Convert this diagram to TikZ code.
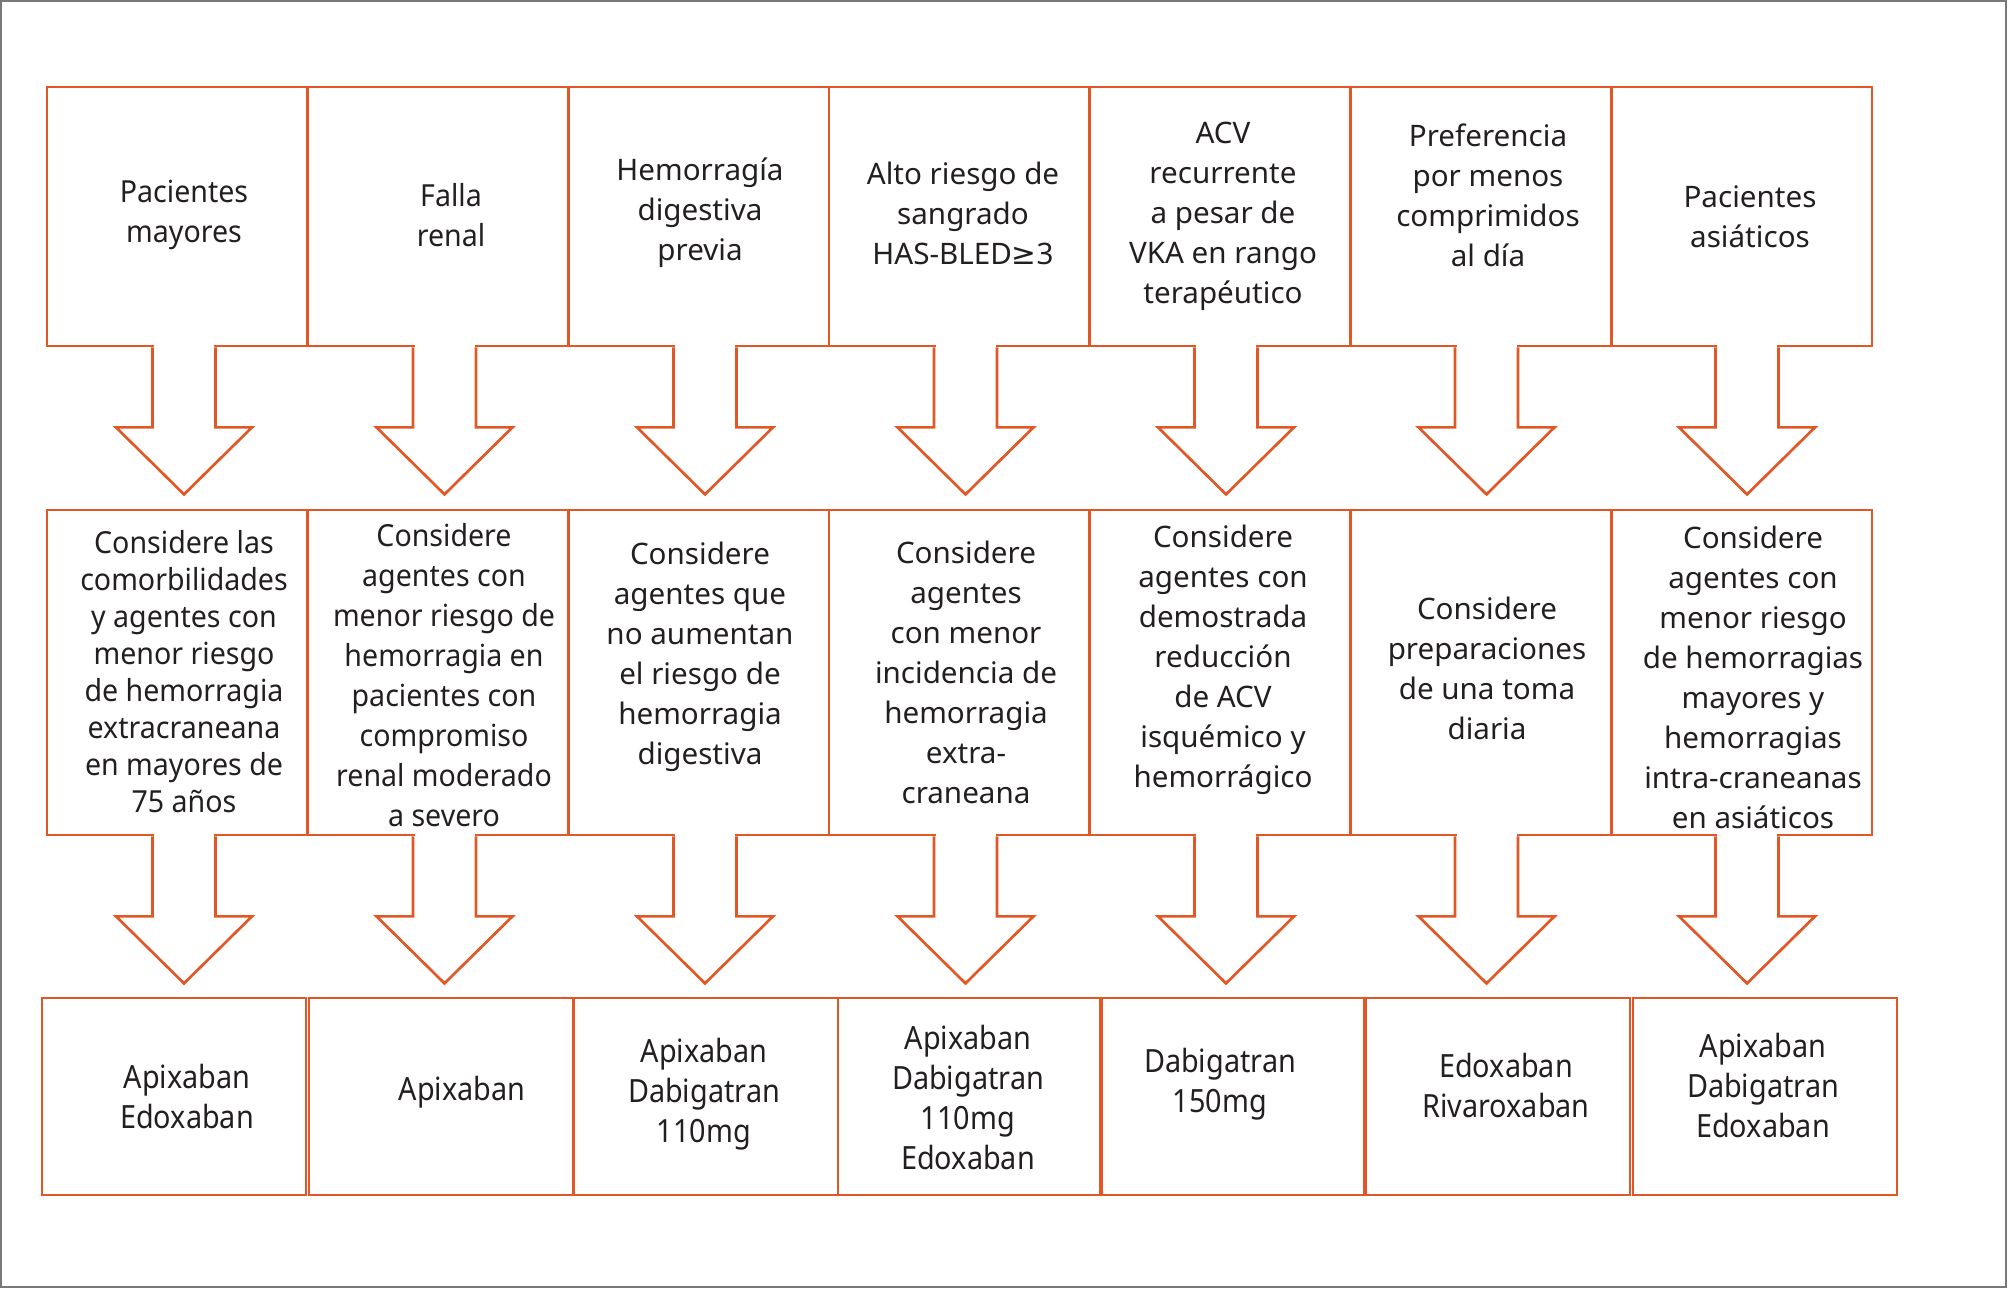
\documentclass[tikz,border=0pt]{standalone}
\usepackage{fontspec}
\setmainfont{Noto Sans}
\newfontfamily\fuenteangosta[FakeStretch=0.94]{Noto Sans}
\newfontfamily\fuentefarmaco[FakeStretch=0.9]{Noto Sans}
\newfontfamily\fuentesimbolo{DejaVu Sans}

\begin{document}
\begin{tikzpicture}[x=0.5pt, y=-0.5pt,
        celda/.style={draw=naranja, line width=1.35pt, inner sep=0pt, minimum width=130.35pt},
        flecha/.style={draw=naranja, line width=1.35pt},
        texto/.style={align=center, inner sep=0pt, text=tinta, font=\fontsize{14.8}{20}\selectfont},
        angosto/.style={texto, font=\fuenteangosta\fontsize{15.2}{20}\selectfont},
        farmaco/.style={texto, font=\fuentefarmaco\fontsize{16}{20}\selectfont}]

        % 定义颜色
        \definecolor{naranja}{RGB}{225, 88, 38}
        \definecolor{tinta}{RGB}{35, 31, 32}
        \definecolor{marco}{RGB}{120, 120, 120}

        % 画布与外框
        \useasboundingbox (0,0) rectangle (2008,1289);
        \draw[marco, line width=1pt] (1,1) rectangle (2006,1287);

        % 上排和中排格子
        \foreach \i in {1,...,7} {
            \node[celda, minimum height=129.5pt] (s\i) at (177.35+260.7*\i-260.7, 216.5) {};
            \node[celda, minimum height=162.5pt] (m\i) at (177.35+260.7*\i-260.7, 672.5) {};
        }

        % 下排方框
        \foreach \i/\bx in {1/42, 2/309, 3/574, 4/838, 5/1100, 6/1366, 7/1633} {
            \node[celda, minimum width=132pt, minimum height=98.5pt] (b\i) at (\bx+132, 1096.5) {};
        }

        % 空心箭头
        \foreach \i in {1,...,7} {
            \pgfmathsetmacro{\cx}{184+260.5*(\i-1)}
            \foreach \fila in {s, m} {
                \fill[white] (\cx-30,0 |- \fila\i.south) ++(0,-3) rectangle ++(60,6);
                \draw[flecha] (\cx-31.5,0 |- \fila\i.south) -- ++(0,80) -- ++(-36.5,0)
                    -- ++(68,67) -- ++(68,-67) -- ++(-36.5,0) -- ++(0,-80);
            }
        }

        % 上排文字
        \node[angosto] (ts1) at (184, 215) {Pacientes\\mayores};
        \node[angosto] (ts2) at (451, 215) {Falla\\renal};
        \node[texto] (ts3) at (700, 213) {Hemorragía\\digestiva\\previa};
        \node[texto] (ts4) at (963, 213) {Alto riesgo de\\sangrado\\HAS-BLED{\fuentesimbolo ≥}3};
        \node[texto] (ts5) at (1223, 216) {ACV\\recurrente\\a pesar de\\VKA en rango\\terapéutico};
        \node[texto] (ts6) at (1488, 195) {Preferencia\\por menos\\comprimidos\\al día};
        \node[texto] (ts7) at (1750, 217) {Pacientes\\asiáticos};

        % 中排文字
        \node[angosto, font=\fuenteangosta\fontsize{15.2}{18.5}\selectfont] (tm1) at (184, 672)
            {Considere las\\comorbilidades\\y agentes con\\menor riesgo\\de hemorragia\\extracraneana\\en mayores de\\75 años};
        \node[angosto] (tm2) at (444, 675)
            {Considere\\agentes con\\menor riesgo de\\hemorragia en\\pacientes con\\compromiso\\renal moderado\\a severo};
        \node[texto] (tm3) at (700, 657)
            {Considere\\agentes que\\no aumentan\\el riesgo de\\hemorragia\\digestiva};
        \node[texto] (tm4) at (966, 672)
            {Considere\\agentes\\con menor\\incidencia de\\hemorragia\\extra-\\craneana};
        \node[texto] (tm5) at (1223, 660)
            {Considere\\agentes con\\demostrada\\reducción\\de ACV\\isquémico y\\hemorrágico};
        \node[texto] (tm6) at (1487, 668)
            {Considere\\preparaciones\\de una toma\\diaria};
        \node[texto] (tm7) at (1753, 677)
            {Considere\\agentes con\\menor riesgo\\de hemorragias\\mayores y\\hemorragias\\intra-craneanas\\en asiáticos};

        % 下排药物
        \node[farmaco] (tb1) at (187, 1096) {Apixaban\\Edoxaban};
        \node[farmaco] (tb2) at (462, 1092) {Apixaban};
        \node[farmaco] (tb3) at (704, 1094) {Apixaban\\Dabigatran\\110mg};
        \node[farmaco] (tb4) at (968, 1097) {Apixaban\\Dabigatran\\110mg\\Edoxaban};
        \node[farmaco] (tb5) at (1220, 1084) {Dabigatran\\150mg};
        \node[farmaco] (tb6) at (1506, 1085) {Edoxaban\\Rivaroxaban};
        \node[farmaco] (tb7) at (1763, 1085) {Apixaban\\Dabigatran\\Edoxaban};

    \end{tikzpicture}
\end{document}
